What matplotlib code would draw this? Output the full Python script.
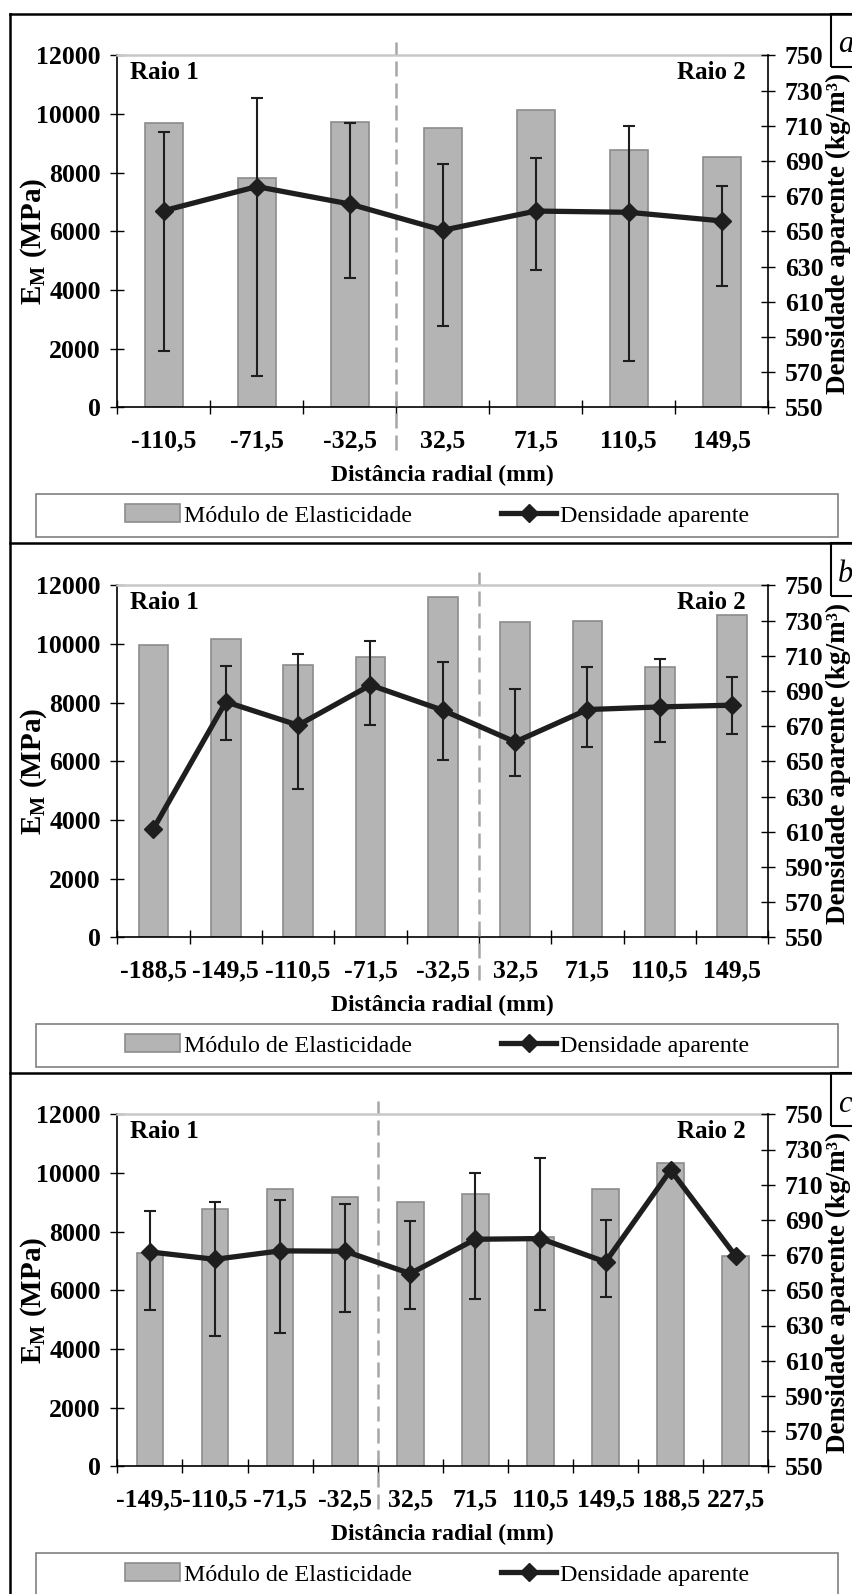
import numpy as np
import matplotlib
matplotlib.use('Agg')
from matplotlib import pyplot as plt
from matplotlib.patches import Rectangle
from matplotlib.lines import Line2D

plt.rcParams['font.family'] = ['Liberation Serif', 'DejaVu Serif']
plt.rcParams['mathtext.fontset'] = 'custom'
plt.rcParams['mathtext.rm'] = 'Liberation Serif'
plt.rcParams['mathtext.bf'] = 'Liberation Serif:bold'

nan = np.nan

# panel a
labels_a = ['-110,5', '-71,5', '-32,5', '32,5', '71,5', '110,5', '149,5']
em_a = [9700, 7830, 9730, 9520, 10130, 8760, 8530]
dens_a = [661.7, 675.4, 665.5, 650.6, 661.5, 660.8, 655.9]
hi_a = [706.6, 725.6, 711.5, 688.4, 691.7, 709.8, 675.8]
lo_a = [582.2, 567.8, 623.5, 596.4, 628.0, 576.5, 619.0]

# panel b
labels_b = ['-188,5', '-149,5', '-110,5', '-71,5', '-32,5', '32,5', '71,5', '110,5', '149,5']
em_b = [9950, 10170, 9300, 9560, 11600, 10740, 10770, 9220, 10990]
dens_b = [611.7, 683.8, 670.5, 693.3, 679.0, 661.0, 679.4, 680.9, 681.9]
hi_b = [nan, 704.1, 710.7, 718.3, 706.5, 690.8, 703.5, 707.9, 698.0]
lo_b = [nan, 661.9, 634.3, 670.9, 650.6, 641.6, 658.2, 661.0, 665.7]

# panel c
labels_c = ['-149,5', '-110,5', '-71,5', '-32,5', '32,5', '71,5', '110,5', '149,5', '188,5', '227,5']
em_c = [7280, 8760, 9440, 9170, 9020, 9300, 7820, 9470, 10330, 7170]
dens_c = [671.8, 667.6, 672.4, 672.2, 659.5, 679.0, 679.4, 666.1, 718.3, 669.4]
hi_c = [695.0, 699.9, 701.2, 698.8, 689.5, 716.4, 725.0, 689.8, nan, nan]
lo_c = [639.0, 623.8, 625.7, 637.7, 639.6, 644.9, 638.6, 646.2, nan, nan]

W, H = 852, 1594
fig = plt.figure(figsize=(W / 100, H / 100), dpi=100)

BAR = '#b4b4b4'
BAR_EDGE = '#8c8c8c'
INK = '#1e1e1e'
TICK_FS = 18.5


def fx(px):
    return px / W


def fy(py):
    return 1 - py / H


def panel(top_px, sep_px, labels, em, dens, hi, lo, split, letter):
    n = len(labels)
    x = np.arange(n)
    ax = fig.add_axes([fx(117.3), fy(top_px + 352), fx(768.3) - fx(117.3), 352 / H])
    ax.bar(x, em, width=0.41, color=BAR, edgecolor=BAR_EDGE, linewidth=1.2, zorder=2)
    ax.set_xlim(-0.5, n - 0.5)
    ax.set_ylim(0, 12000)
    ax.set_yticks(range(0, 12001, 2000))
    ax.set_xticks(np.arange(-0.5, n, 1.0))
    ax.set_xticklabels([])
    ax.set_xticks(x, minor=True)
    ax.set_xticklabels(labels, minor=True)
    ax.tick_params(axis='x', which='major', direction='inout', length=10, width=1)
    ax.tick_params(axis='x', which='minor', length=0, pad=16, labelsize=TICK_FS)
    ax.tick_params(axis='y', direction='inout', length=10, width=1, pad=7, labelsize=TICK_FS)
    for t in ax.get_xticklabels(minor=True) + ax.get_yticklabels():
        t.set_fontweight('bold')
    ax.spines['right'].set_visible(False)
    ax.spines['top'].set_color('#c8c8c8')
    ax.spines['top'].set_linewidth(1.8)
    ax.spines['left'].set_linewidth(1.2)
    ax.spines['bottom'].set_linewidth(1.2)

    ax.set_xlabel('Distância radial (mm)', fontsize=17, fontweight='bold')
    ax.xaxis.label.set_va('center')
    ax.xaxis.set_label_coords(0.5, -68.5 / 352)
    ax.set_ylabel(r'E$_\mathbf{M}$ (MPa)', fontsize=21, fontweight='bold')
    ax.yaxis.label.set_va('center')
    ax.yaxis.set_label_coords(-0.128, 0.472)

    ax.axvline(split - 0.5, ymin=-0.12, ymax=1.037, clip_on=False,
               color='#a6a6a6', lw=1.8, ls=(0, (6, 2.8)), zorder=3)

    ax.text(0.02, 0.985, 'Raio 1', transform=ax.transAxes, ha='left', va='top',
            fontsize=18, fontweight='bold')
    ax.text(0.966, 0.985, 'Raio 2', transform=ax.transAxes, ha='right', va='top',
            fontsize=18, fontweight='bold')

    ax2 = ax.twinx()
    ax2.set_ylim(550, 750)
    ax2.set_yticks(range(550, 751, 20))
    ax2.tick_params(axis='y', direction='inout', length=10, width=1, pad=7, labelsize=TICK_FS)
    for t in ax2.get_yticklabels():
        t.set_fontweight('bold')
    for s in ['top', 'left', 'bottom']:
        ax2.spines[s].set_visible(False)
    ax2.spines['right'].set_linewidth(1.2)
    ax2.set_ylabel('Densidade aparente (kg/m³)', fontsize=19.5, fontweight='bold')
    ax2.yaxis.label.set_va('center')
    ax2.yaxis.set_label_coords(1.108, 0.495)

    d = np.array(dens)
    h = np.array(hi)
    l = np.array(lo)
    m = ~np.isnan(h)
    ax2.errorbar(x[m], d[m], yerr=[d[m] - l[m], h[m] - d[m]], fmt='none',
                 ecolor=INK, elinewidth=1.5, capsize=4, capthick=1.5, zorder=3)
    ax2.plot(x, d, color=INK, lw=3.8, marker='D', ms=9, zorder=4)

    # legend
    handles = [Rectangle((0, 0), 1, 1, facecolor=BAR, edgecolor=BAR_EDGE, lw=1.2),
               Line2D([], [], color=INK, lw=3.8, marker='D', ms=9)]
    ax2.legend(handles, ['Módulo de Elasticidade', 'Densidade aparente'],
               loc='center', bbox_to_anchor=(fx(437), fy(top_px + 460)),
               bbox_transform=fig.transFigure, ncol=2, frameon=False,
               prop={'family': 'Liberation Serif', 'size': 17.3},
               handlelength=2.3, handleheight=0.8, handletextpad=0.15,
               columnspacing=3.7, borderpad=0)
    fig.add_artist(Rectangle((fx(36), fy(top_px + 482)), fx(838) - fx(36), 43 / H,
                             transform=fig.transFigure, fill=False,
                             edgecolor='#808080', lw=1.2))

    # panel letter box
    fig.add_artist(Rectangle((fx(831), fy(sep_px + 53)), fx(40), 53 / H,
                             transform=fig.transFigure, fill=False,
                             edgecolor='black', lw=1.5))
    fig.text(fx(838), fy(sep_px + 31), letter, fontsize=22, style='italic',
             ha='left', va='center')
    return ax


panel(55.3, 14, labels_a, em_a, dens_a, hi_a, lo_a, 3, 'a')
panel(585.3, 543, labels_b, em_b, dens_b, hi_b, lo_b, 5, 'b')
panel(1114.3, 1073, labels_c, em_c, dens_c, hi_c, lo_c, 4, 'c')

# outer frame and separators
for sy in [14, 543, 1073]:
    fig.add_artist(Line2D([fx(10), 1.0], [fy(sy), fy(sy)], transform=fig.transFigure,
                          color='black', lw=1.8))
fig.add_artist(Line2D([fx(10), fx(10)], [fy(14), 0.0], transform=fig.transFigure,
                      color='black', lw=1.8))

fig.savefig('out.png', dpi=100)
